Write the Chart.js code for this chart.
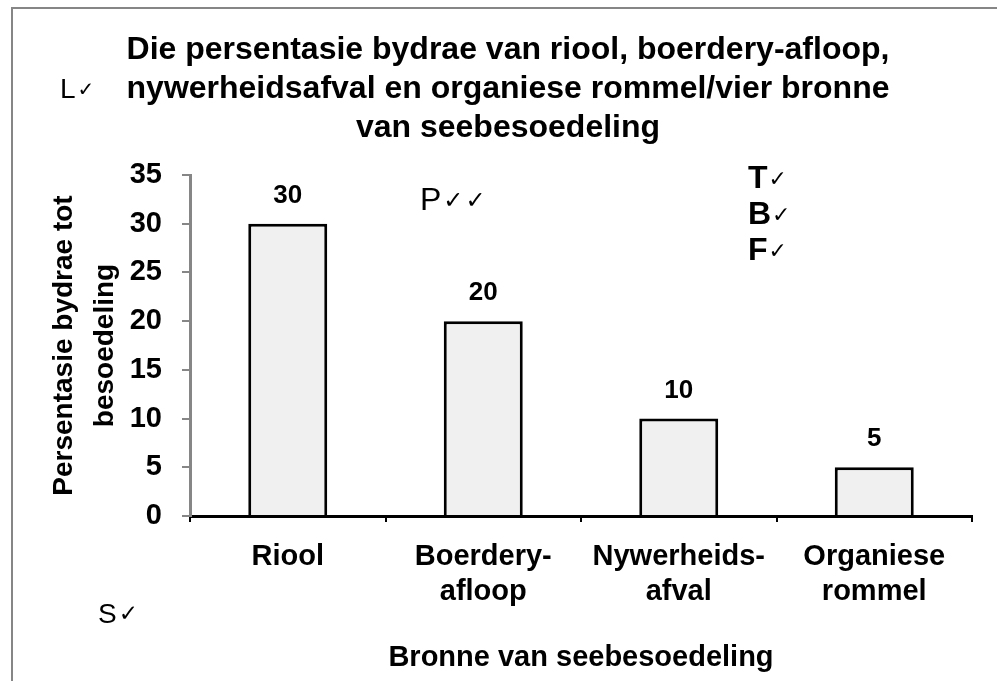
<!DOCTYPE html>
<html>
<head>
<meta charset="utf-8">
<script src="https://cdn.jsdelivr.net/npm/chart.js@4.4.1/dist/chart.umd.min.js"></script>
<style>
  html, body { margin: 0; padding: 0; background: #fff; }
</style>
</head>
<body>
<canvas id="chart" width="997" height="681"></canvas>
<script>
// ---- data ----
const categories = [['Riool'], ['Boerdery-', 'afloop'], ['Nywerheids-', 'afval'], ['Organiese', 'rommel']];
const values = [30, 20, 10, 5];
const yTicks = [0, 5, 10, 15, 20, 25, 30, 35];
const titleLines = [
  'Die persentasie bydrae van riool, boerdery-afloop,',
  'nywerheidsafval en organiese rommel/vier bronne',
  'van seebesoedeling'
];
const yTitle = ['Persentasie bydrae tot', 'besoedeling'];
const xTitle = 'Bronne van seebesoedeling';

const FONT = "'Liberation Sans', Arial, sans-serif";
const CHECK_FONT = "'DejaVu Sans', sans-serif";

// grey frame round the whole chart
const framePlugin = {
  id: 'frame',
  beforeDraw(chart) {
    const ctx = chart.ctx;
    ctx.save();
    ctx.fillStyle = '#fff';
    ctx.fillRect(0, 0, chart.width, chart.height);
    ctx.strokeStyle = '#868686';
    ctx.lineWidth = 2;
    ctx.strokeRect(12, 8, 1100, 800);
    ctx.restore();
  }
};

// value labels above the bars
const valueLabels = {
  id: 'valueLabels',
  afterDatasetsDraw(chart) {
    const ctx = chart.ctx;
    const meta = chart.getDatasetMeta(0);
    ctx.save();
    ctx.font = 'bold 26px ' + FONT;
    ctx.fillStyle = '#000';
    ctx.textAlign = 'center';
    ctx.textBaseline = 'middle';
    meta.data.forEach((bar, i) => {
      ctx.fillText(String(values[i]), bar.x, bar.y - 28);
    });
    ctx.restore();
  }
};

// marker's notes (L, P, T, B, F, S with ticks)
const notes = {
  id: 'notes',
  afterDraw(chart) {
    const ctx = chart.ctx;
    ctx.save();
    ctx.fillStyle = '#000';
    ctx.textBaseline = 'alphabetic';
    ctx.textAlign = 'left';

    const smallNote = (letter, x, y, size, checks, checkSize) => {
      ctx.font = size + 'px ' + FONT;
      ctx.fillText(letter, x, y);
      let cx = x + ctx.measureText(letter).width + 2;
      ctx.font = checkSize + 'px ' + CHECK_FONT;
      for (let k = 0; k < checks; k++) {
        ctx.fillText('\u2713', cx, y - 2);
        cx += ctx.measureText('\u2713').width + 2;
      }
    };
    smallNote('L', 60, 98, 28, 1, 20);
    smallNote('P', 420, 210, 32, 2, 24);
    smallNote('S', 98, 623, 28, 1, 23);

    ['T', 'B', 'F'].forEach((letter, i) => {
      const y = 188 + i * 36;
      ctx.font = 'bold 32px ' + FONT;
      ctx.fillText(letter, 748, y);
      const w = ctx.measureText(letter).width;
      ctx.font = '22px ' + CHECK_FONT;
      ctx.fillText('\u2713', 748 + w + 1, y - 2);
    });
    ctx.restore();
  }
};

new Chart(document.getElementById('chart'), {
  type: 'bar',
  data: {
    labels: categories,
    datasets: [{
      data: values,
      backgroundColor: '#f0f0f0',
      borderColor: '#000',
      borderWidth: 3,
      categoryPercentage: 1,
      barPercentage: 0.404
    }]
  },
  options: {
    responsive: false,
    animation: false,
    layout: { padding: { left: 44, right: 25, top: 0, bottom: 0 } },
    plugins: {
      legend: { display: false },
      tooltip: { enabled: false },
      title: {
        display: true,
        text: titleLines,
        color: '#000',
        font: { family: FONT, size: 32, weight: 'bold', lineHeight: 39 / 32 },
        padding: { top: 31, bottom: 27 }
      }
    },
    scales: {
      x: {
        afterFit(scale) { scale.height = 165; },
        grid: {
          drawOnChartArea: false,
          drawTicks: true,
          tickLength: 6,
          color: '#000',
          lineWidth: 2
        },
        border: { color: '#000', width: 3 },
        ticks: {
          color: '#000',
          padding: 17,
          font: { family: FONT, size: 29, weight: 'bold', lineHeight: 35 / 29 },
          maxRotation: 0,
          autoSkip: false
        },
        title: {
          display: true,
          text: xTitle,
          color: '#000',
          font: { family: FONT, size: 29, weight: 'bold', lineHeight: 1.2 },
          padding: { top: 0, bottom: 6 }
        }
      },
      y: {
        min: 0,
        max: 35,
        afterFit(scale) { scale.width = 146; },
        afterBuildTicks(scale) {
          scale.ticks = yTicks.map(v => ({ value: v }));
        },
        grid: {
          drawOnChartArea: false,
          drawTicks: true,
          tickLength: 8,
          color: '#868686',
          lineWidth: 2
        },
        border: { color: '#868686', width: 3 },
        ticks: {
          color: '#000',
          padding: 20,
          font: { family: FONT, size: 29, weight: 'bold' }
        },
        title: {
          display: true,
          text: yTitle,
          color: '#000',
          font: { family: FONT, size: 28, weight: 'bold', lineHeight: 41 / 28 },
          padding: { top: 0, bottom: 0 }
        }
      }
    }
  },
  plugins: [framePlugin, valueLabels, notes]
});
</script>
</body>
</html>
